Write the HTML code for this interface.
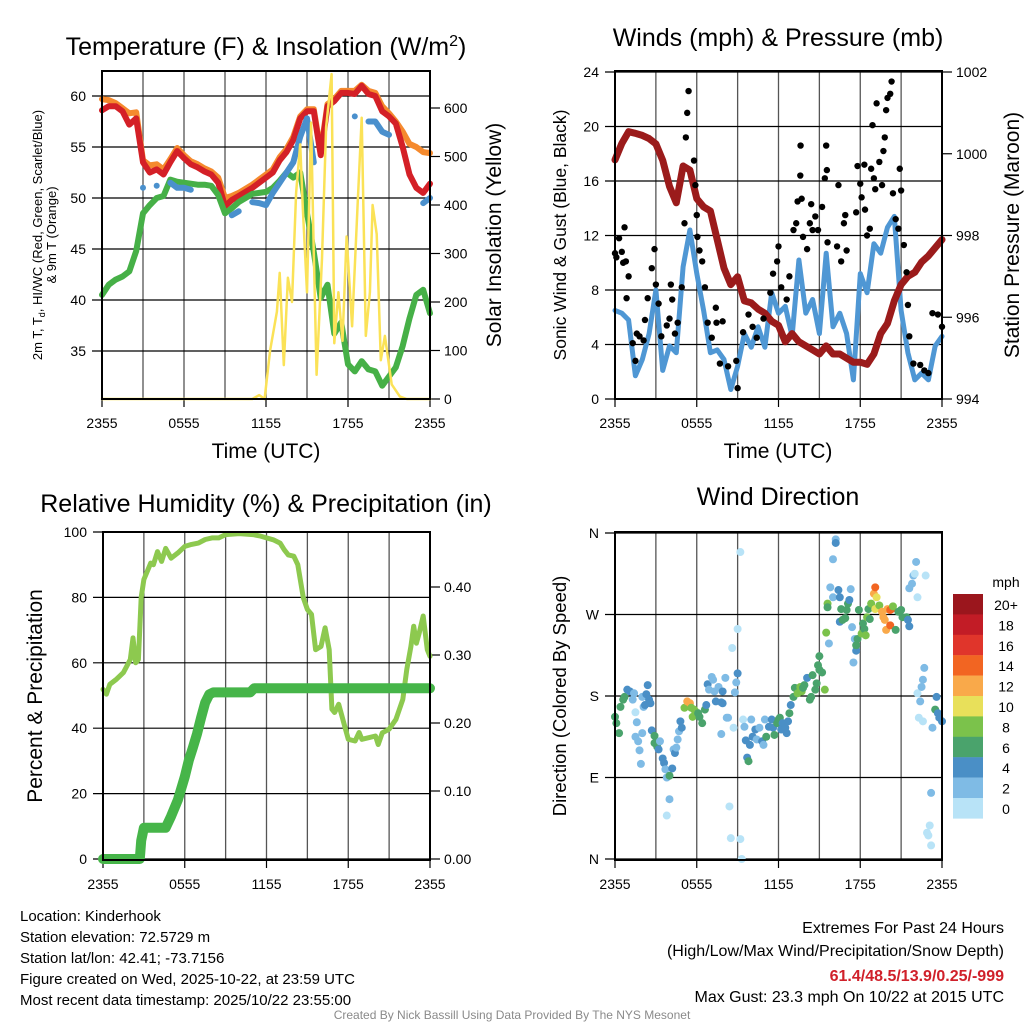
<!DOCTYPE html>
<html><head><meta charset="utf-8">
<style>
html,body{margin:0;padding:0;background:#fff;}
svg{display:block;font-family:"Liberation Sans",Arial,sans-serif;}
</style></head>
<body>
<svg id="fig" width="1024" height="1024" viewBox="0 0 1024 1024" xmlns="http://www.w3.org/2000/svg">
<rect width="1024" height="1024" fill="#fff"/>
<g id="p1"></g>
<g id="p2"></g>
<g id="p3"></g>
<g id="p4"></g>

<text x="266" y="55" font-size="25" text-anchor="middle">Temperature (F) &amp; Insolation (W/m<tspan dy="-9" font-size="16">2</tspan><tspan dy="9">)</tspan></text>
<text x="778" y="46" font-size="25" text-anchor="middle">Winds (mph) &amp; Pressure (mb)</text>
<text x="266" y="512" font-size="25" text-anchor="middle">Relative Humidity (%) &amp; Precipitation (in)</text>
<text x="778" y="505" font-size="25" text-anchor="middle">Wind Direction</text>

<text x="266" y="458" font-size="21" text-anchor="middle">Time (UTC)</text>
<text x="778" y="458" font-size="21" text-anchor="middle">Time (UTC)</text>

<text transform="translate(42,235) rotate(-90)" font-size="13" text-anchor="middle">2m T, T<tspan dy="3" font-size="9">d</tspan><tspan dy="-3">, HI/WC (Red, Green, Scarlet/Blue)</tspan></text>
<text transform="translate(56,235) rotate(-90)" font-size="13" text-anchor="middle">&amp; 9m T (Orange)</text>
<text transform="translate(501,235) rotate(-90)" font-size="21" text-anchor="middle">Solar Insolation (Yellow)</text>
<text transform="translate(566,235) rotate(-90)" font-size="17.5" text-anchor="middle">Sonic Wind &amp; Gust (Blue, Black)</text>
<text transform="translate(1019,235) rotate(-90)" font-size="21" text-anchor="middle">Station Pressure (Maroon)</text>
<text transform="translate(42,696) rotate(-90)" font-size="21" text-anchor="middle">Percent &amp; Precipitation</text>
<text transform="translate(566,696) rotate(-90)" font-size="18.5" text-anchor="middle">Direction (Colored By Speed)</text>

<g id="cbar"></g>
<text x="1006" y="587" font-size="14" text-anchor="middle">mph</text>

<g font-size="15">
<text x="20" y="921">Location: Kinderhook</text>
<text x="20" y="942">Station elevation: 72.5729 m</text>
<text x="20" y="963">Station lat/lon: 42.41; -73.7156</text>
<text x="20" y="984">Figure created on Wed, 2025-10-22, at 23:59 UTC</text>
<text x="20" y="1005">Most recent data timestamp: 2025/10/22 23:55:00</text>
</g>
<g font-size="16" text-anchor="end">
<text x="1004" y="933">Extremes For Past 24 Hours</text>
<text x="1004" y="956">(High/Low/Max Wind/Precipitation/Snow Depth)</text>
<text x="1004" y="981" fill="#d0202a" font-weight="bold">61.4/48.5/13.9/0.25/-999</text>
<text x="1004" y="1002">Max Gust: 23.3 mph On 10/22 at 2015 UTC</text>
</g>
<text x="512" y="1019" font-size="12" fill="#8a8a8a" text-anchor="middle">Created By Nick Bassill Using Data Provided By The NYS Mesonet</text>
</svg>
<script>
const NS="http://www.w3.org/2000/svg";
const timeTicks=["2355","0555","1155","1755","2355"];
const halfHours=[0,0.5,1,1.5,2,2.5,3,3.5,4,4.5,5,5.5,6,6.5,7,7.5,8,8.5,9,9.5,10,10.5,11,11.5,12,12.5,13,13.5,14,14.5,15,15.5,16,16.5,17,17.5,18,18.5,19,19.5,20,20.5,21,21.5,22,22.5,23,23.5,24];
const tempRed=[58.6,59.0,59.0,58.5,57.2,57.8,53.5,52.5,52.8,52.3,53.5,54.6,53.9,53.3,53.0,52.6,52.3,51.5,49.2,49.8,50.2,50.6,51.0,51.5,52.0,52.5,53.7,54.5,55.7,57.8,58.5,58.5,54.2,59.0,59.5,60.3,60.3,60.2,61.0,60.2,60.0,58.5,58.0,57.3,55.0,52.3,51.0,50.5,51.4];
const temp9m=[59.7,59.6,59.3,58.8,58.3,58.4,53.7,53.2,53.3,52.8,53.8,54.9,54.2,53.6,53.3,52.9,52.6,52.0,50.0,50.2,50.5,50.9,51.3,51.8,52.3,52.8,54.0,54.8,56.0,58.0,58.7,58.7,54.5,59.2,59.7,60.5,60.5,60.5,61.1,60.5,60.3,59.0,58.3,57.5,56.5,55.3,55.0,54.5,54.4];
const heatIndex=[null,null,null,null,null,null,51.0,null,51.2,null,51.5,51.0,51.0,50.8,null,null,null,null,null,48.3,48.7,null,49.6,49.5,49.3,50.5,51.5,52.5,53.5,56.0,57.8,53.5,null,null,null,null,null,58.0,null,57.5,57.5,56.5,56.2,null,null,null,null,49.5,50.0];
const dewpoint=[40.5,41.5,42.0,42.3,42.8,44.8,48.5,49.3,50.0,50.2,51.8,51.6,51.5,51.4,51.3,51.3,51.2,50.3,48.5,49.0,49.6,50.0,50.4,50.5,50.6,51.0,51.7,52.5,52.0,52.5,48.5,44.7,40.2,41.5,36.7,37.8,33.7,33.0,34.0,33.2,33.0,31.6,32.5,33.4,35.5,38.2,40.5,41.0,38.7];
const solarTimes=[0,11.0,11.5,11.9,12.3,12.8,13.0,13.3,13.6,13.9,14.2,14.5,14.7,15.0,15.3,15.5,15.7,16.1,16.4,16.8,17.0,17.3,17.6,17.9,18.3,18.7,19.0,19.3,19.6,19.8,20.1,20.4,20.7,21.2,21.8,22.3,24];
const solarVals=[0,0,8,0,100,180,260,70,250,200,425,525,390,220,570,300,50,290,560,670,115,220,120,335,150,400,580,130,220,400,340,80,130,30,5,0,0];
const pressure=[999.85,1000.25,1000.54,1000.5,1000.45,1000.37,1000.24,999.84,999.2,998.8,999.7,999.6,998.9,998.7,998.6,997.9,997.2,996.8,996.99,996.4,996.35,996.2,996.1,995.9,995.8,995.4,995.6,995.4,995.3,995.2,995.1,995.3,995.1,995.1,995.0,994.9,994.9,994.85,995.1,995.6,995.85,996.4,996.8,997.0,997.1,997.35,997.5,997.7,997.9];
const windSpeed=[6.5,6.3,5.8,1.7,2.9,4.8,8.0,2.1,3.9,3.4,9.7,12.4,9.2,6.5,3.4,3.6,2.9,0.7,2.4,4.8,3.8,5.3,3.8,7.8,6.3,6.8,4.6,10.2,6.3,7.3,4.8,10.7,5.3,6.3,4.8,1.4,9.2,7.8,11.4,10.7,12.6,13.4,6.5,3.4,1.4,1.9,1.4,3.9,4.6];
const gustTimes=[0,0.1,0.3,0.5,0.6,0.7,0.8,1.0,0.85,1.3,1.5,1.6,1.8,2.1,2.2,2.4,2.7,2.9,3.0,3.2,3.4,3.8,4.0,4.2,4.1,4.4,4.6,4.9,5.1,5.2,5.3,5.4,5.8,5.9,6.0,6.05,6.2,6.4,6.6,6.8,7.1,7.4,7.45,7.7,7.9,8.3,8.9,9.0,9.4,9.8,10.1,10.4,10.9,11.4,11.6,11.9,12.0,12.2,12.6,12.8,13.1,13.3,13.4,13.6,13.62,13.7,13.8,14.1,14.3,14.4,14.5,14.7,14.9,15.2,15.4,15.5,15.55,15.6,16.3,16.4,16.6,16.8,16.9,17.0,17.7,17.8,18.0,18.1,18.3,18.35,18.5,18.7,18.8,18.9,19.0,19.1,19.2,19.4,19.6,19.7,19.8,19.9,20.0,20.2,20.3,20.4,20.6,20.8,20.9,21.0,21.2,21.4,21.5,21.6,21.9,22.4,22.7,23.0,23.3,23.7,24];
const gustVals=[10.7,10.4,11.8,10.8,10.0,12.6,10.1,9.0,7.4,4.1,2.8,4.8,4.6,4.3,5.8,7.4,9.6,11.0,8.4,7.0,4.6,5.4,5.9,7.3,8.4,4.8,5.6,8.2,12.9,19.2,21.0,22.6,17.5,15.7,13.5,11.9,10.9,10.1,8.2,5.6,4.5,6.7,5.6,2.6,5.7,2.4,2.8,0.8,4.9,6.2,5.3,4.5,5.9,7.8,9.2,10.1,11.2,8.2,7.3,9.0,12.4,12.9,14.5,16.4,18.6,14.7,11.9,11.0,12.9,14.3,12.4,13.4,12.4,14.1,16.2,18.6,16.8,11.5,11.2,15.7,10.1,12.9,13.5,10.9,13.7,17.1,15.8,14.8,17.2,13.9,12.0,12.5,16.9,20.1,16.2,15.4,21.7,17.4,15.7,18.2,19.2,21.2,22.1,22.4,23.3,15.1,13.2,12.5,16.9,15.3,11.3,9.3,6.9,4.6,2.6,2.5,2.1,1.9,6.3,6.2,5.3];
const rhTimes=[0,0.25,0.5,1,1.5,2,2.2,2.4,2.6,2.8,3,3.5,3.7,4,4.3,4.6,5,5.5,6,6.5,7,7.5,8,8.5,9,10,11,11.5,12,12.5,13,13.3,13.6,14,14.3,14.7,15,15.3,15.6,16,16.3,16.6,16.8,17,17.3,17.5,17.8,18,18.5,18.8,19,19.5,20,20.2,20.5,21,21.5,22,22.3,22.6,22.8,23,23.2,23.5,23.8,24];
const rhVals=[51.9,50.4,53.4,55,57,61,67.6,60,61,80,85.5,90.5,90,94,91,95,92,93.6,95.6,96.2,96.6,97.7,98.2,98.2,99.2,99.5,99.2,98.8,98.2,97.6,96.6,94.6,93,92.6,90,79.9,76.3,74.8,64,65,70.7,64,45.8,44.8,47.3,44.3,39.7,36.6,36.1,38.7,36.6,37.1,37.6,35,38.6,39.7,42.7,48.8,58,65,71.2,66,69,74.3,64,62];
const precipTimes=[0,2.7,2.8,3.0,4.6,5.0,5.5,6.0,6.3,6.6,6.9,7.2,7.5,7.8,8.1,10.8,11.1,24];
const precipVals=[0,0,0.027,0.046,0.046,0.063,0.087,0.121,0.145,0.164,0.184,0.208,0.23,0.242,0.245,0.245,0.251,0.251];
const dirTimes=[0,0.1,0.3,0.4,0.6,0.7,0.9,1.1,1.3,1.4,1.5,1.6,1.5,1.7,1.8,1.9,2.0,2.1,2.0,2.2,2.4,2.3,2.5,2.6,2.7,2.9,2.9,3.1,3.2,3.3,3.5,3.6,3.7,3.8,4.0,4.0,3.8,4.2,4.3,4.4,4.5,4.6,4.7,4.8,4.9,5.1,5.3,5.5,5.6,5.8,5.9,5.7,6.1,6.2,6.4,6.6,6.7,6.8,6.9,7.1,7.2,7.3,7.4,7.6,7.8,7.9,7.9,8.1,8.2,8.3,7.8,8.4,8.5,8.6,8.7,8.8,8.9,9.0,9.0,9.2,9.2,9.3,9.4,9.5,9.6,9.7,9.8,9.9,10.0,10.1,10.3,10.4,10.6,10.8,10.9,11.0,11.1,11.3,11.5,11.6,11.7,11.9,12.0,12.1,12.2,12.3,12.5,12.6,12.7,12.8,12.9,13.1,13.2,13.4,13.6,13.7,13.8,13.9,14.1,14.3,14.4,14.5,14.7,14.8,14.9,15.0,15.0,15.2,15.4,15.5,15.6,15.6,15.7,15.8,16.0,16.0,16.2,16.2,16.4,16.5,16.5,16.6,16.7,16.9,17.0,17.1,17.2,17.3,17.4,17.5,17.6,17.7,17.7,17.8,17.9,18.1,18.2,18.3,18.4,18.5,18.6,18.7,18.8,19.0,19.1,19.2,19.1,19.4,19.6,19.7,19.8,19.9,20.0,20.2,20.2,20.3,20.4,20.6,20.8,21.0,21.1,21.4,21.5,21.6,21.6,21.8,21.9,22.1,22.0,22.2,22.8,22.2,22.4,22.5,22.6,22.7,22.3,22.6,23.2,23.1,22.9,23.0,23.2,23.3,23.5,23.6,23.7,23.8,24];
const dirVals=[157,150,139,168,176,179,187,185,176,183,162,151,135,130,120,105,139,168,179,170,192,182,176,172,142,136,128,124,121,130,111,106,99,90,92,66,48,100,121,117,123,132,141,152,145,167,174,172,167,165,163,157,161,157,150,165,170,193,187,201,198,185,174,190,173,172,185,200,156,156,138,58,23,233,145,184,195,205,254,339,22,0,154,146,131,112,108,126,154,135,143,132,145,130,126,154,135,146,154,145,137,150,154,156,143,150,145,139,152,161,170,179,189,183,190,185,189,192,200,176,179,203,187,194,214,224,209,206,187,250,282,278,238,300,289,331,353,349,297,289,262,276,264,266,275,282,286,298,256,217,243,230,236,243,275,249,260,254,247,267,276,265,282,293,300,289,276,280,273,267,264,253,276,275,258,276,279,253,273,275,267,267,264,257,299,304,313,328,315,289,313,183,174,190,198,211,156,152,73,37,29,26,15,145,165,179,161,156,152];
const dirSpeeds=[6,6,7,6,6,6,4,4,3,3,0.5,2,2,2,2,2,2,2,3,4,4,4,4,4,4,7,6,6,4,2,4,4,2,2,6,2,0.5,4,2,4,2,2,2,4,4,8,12,12,9.5,9.5,9.5,8,6,7,6,7,4,4,2,2,2,2,4,3,4,4,4,2,2,2,2,0.5,0.5,0.5,0.5,2,3,4,0.5,0.5,0.5,0.5,0.5,2,4,4,6,4,2,4,4,3,2,4,3,2,6,4,4,4,6,7,6,7,4,4,4,4,4,6,4,6,7,9.5,9.5,8,7,7,4,6,7,7,6,7,6,6,6,6,9.5,9.5,9.5,6,2,3,3,2,2,4,4,4,4,7,6,7,7,6,4,2,2,2,2,4,6,6,7,9.5,7,7,8,8,7,7,8,12,15,10,10,8,12,12,12,12,12,14,15,15,8,7,7,6,6,6,4,4,2,2,2,2,0.5,0.5,0.5,0.5,2,2,2,3,0.5,0.5,2,0.5,0.5,0.5,0.5,2,6,4,4,4,4,4];
const speedLabels=["20+","18","16","14","12","10","8","6","4","2","0"];
const speedColors=["#b8e3f7","#7fbbe5","#4a8fc6","#4aa36c","#7bc24b","#e8e05a","#f9a94a","#f26522","#e0352b","#c21c26","#9b161d"];

function mk(tag,attrs,parent){const e=document.createElementNS(NS,tag);for(const k in attrs)e.setAttribute(k,attrs[k]);parent.appendChild(e);return e;}
function scale(d0,d1,r0,r1){return v=>r0+(v-d0)/(d1-d0)*(r1-r0);}

function frame(g,X0,X1,Y0,Y1,yTicks,yLabelFn,yScale,rTicks,rLabels,rScale,name){
  const xs=scale(0,24,X0,X1);
  for(let h=3;h<24;h+=3){const l=mk('line',{x1:xs(h),x2:xs(h),y1:Y0,y2:Y1,stroke:'#555','stroke-width':1.3},g);
    }
  yTicks.forEach((v,i)=>{const y=yScale(v);
    const l=mk('line',{x1:X0-10,x2:X1,y1:y,y2:y,stroke:'#000','stroke-width':1.2},g);
    
    const t=mk('text',{x:X0-16,y:y+5,'font-size':14,'text-anchor':'end'},g);t.textContent=yLabelFn(v,i);
    });
  if(rTicks){rTicks.forEach((v,i)=>{const y=rScale(v);
    const l=mk('line',{x1:X1,x2:X1+10,y1:y,y2:y,stroke:'#000','stroke-width':1.2},g);
    
    const t=mk('text',{x:X1+14,y:y+5,'font-size':14},g);t.textContent=rLabels[i];
    });}
  timeTicks.forEach((s,i)=>{const x=xs(i*6);
    const l=mk('line',{x1:x,x2:x,y1:Y1,y2:Y1+8,stroke:'#000','stroke-width':1.2},g);
    
    const t=mk('text',{x:x,y:Y1+29,'font-size':14,'text-anchor':'middle'},g);t.textContent=s;
    });
  return xs;
}
function border(g,X0,X1,Y0,Y1,name){const r=mk('rect',{x:X0,y:Y0,width:X1-X0,height:Y1-Y0,fill:'none',stroke:'#000','stroke-width':2},g);
  }
function line(g,ts,vs,xs,ys,color,w,name){
  let segs=[],cur=[];
  ts.forEach((t,i)=>{if(vs[i]===null){if(cur.length)segs.push(cur);cur=[];}else cur.push(xs(t).toFixed(1)+','+ys(vs[i]).toFixed(1));});
  if(cur.length)segs.push(cur);
  segs.forEach(s=>{
    if(s.length===1)s.push(s[0]);
    const p=mk('polyline',{points:s.join(' '),fill:'none',stroke:color,'stroke-width':w,'stroke-linejoin':'round','stroke-linecap':'round'},g);
    });
}

// Panel 1
(function(){
  const g=document.getElementById('p1');const X0=102,X1=430,Y0=71,Y1=399;
  const ys=scale(60,35,96,351);const rs=scale(0,600,399,108);
  const xs=frame(g,X0,X1,Y0,Y1,[60,55,50,45,40,35],v=>String(v),ys,[0,100,200,300,400,500,600],["0","100","200","300","400","500","600"],rs,'temperature');
  line(g,halfHours,temp9m,xs,ys,'#f58a2e',6,'orange-9m-temp-line');
  line(g,halfHours,tempRed,xs,ys,'#d42027',6,'red-2m-temp-line');
  line(g,halfHours,dewpoint,xs,ys,'#46b047',6,'green-dewpoint-line');
  line(g,halfHours,heatIndex,xs,ys,'#4a90cd',6,'blue-heat-index-line');
  line(g,solarTimes,solarVals,xs,rs,'#fbe257',2.5,'yellow-solar-line');
  border(g,X0,X1,Y0,Y1,'temperature');
})();
// Panel 2
(function(){
  const g=document.getElementById('p2');const X0=615,X1=942,Y0=71,Y1=399;
  const ys=scale(0,24,399,72);const rs=scale(994,1002,399,72);
  const xs=frame(g,X0,X1,Y0,Y1,[0,4,8,12,16,20,24],v=>String(v),ys,[994,996,998,1000,1002],["994","996","998","1000","1002"],rs,'wind');
  line(g,halfHours,windSpeed,xs,ys,'#4f97d4',5,'blue-wind-speed-line');
  line(g,halfHours,pressure,xs,rs,'#9b1b1b',7,'maroon-pressure-line');
  gustTimes.forEach((t,i)=>{const c=mk('circle',{cx:xs(t),cy:ys(gustVals[i]),r:3.2,fill:'#000'},g);
    });
  border(g,X0,X1,Y0,Y1,'wind');
})();
// Panel 3
(function(){
  const g=document.getElementById('p3');const X0=103,X1=430,Y0=532,Y1=860;
  const ys=scale(0,100,859,532);const rs=scale(0,0.4,859,587);
  const xs=frame(g,X0,X1,Y0,Y1,[0,20,40,60,80,100],v=>String(v),ys,[0,0.1,0.2,0.3,0.4],["0.00","0.10","0.20","0.30","0.40"],rs,'humidity');
  line(g,rhTimes,rhVals,xs,ys,'#8dc94f',5,'rh-line');
  line(g,precipTimes,precipVals,xs,rs,'#46b549',10,'precip-line');
  border(g,X0,X1,Y0,Y1,'humidity');
})();
// Panel 4
(function(){
  const g=document.getElementById('p4');const X0=615,X1=942,Y0=532,Y1=860;
  const ys=scale(0,360,859,533);
  const xs=frame(g,X0,X1,Y0,Y1,[0,90,180,270,360],(v)=>({0:'N',90:'E',180:'S',270:'W',360:'N'})[v],ys,null,null,null,'direction');
  dirTimes.forEach((t,i)=>{const idx=Math.min(10,Math.floor(dirSpeeds[i]/2));
    const c=mk('circle',{cx:xs(t),cy:ys(dirVals[i]),r:4,fill:speedColors[idx]},g);
    });
  border(g,X0,X1,Y0,Y1,'direction');
  const cb=document.getElementById('cbar');
  speedLabels.forEach((s,i)=>{const y=594+i*20.4;
    const r=mk('rect',{x:953,y:y,width:30,height:20.6,fill:speedColors[10-i]},cb);
    
    const t=mk('text',{x:1006,y:y+16,'font-size':14,'text-anchor':'middle'},cb);t.textContent=s;
    });
})();
</script>
</body></html>
